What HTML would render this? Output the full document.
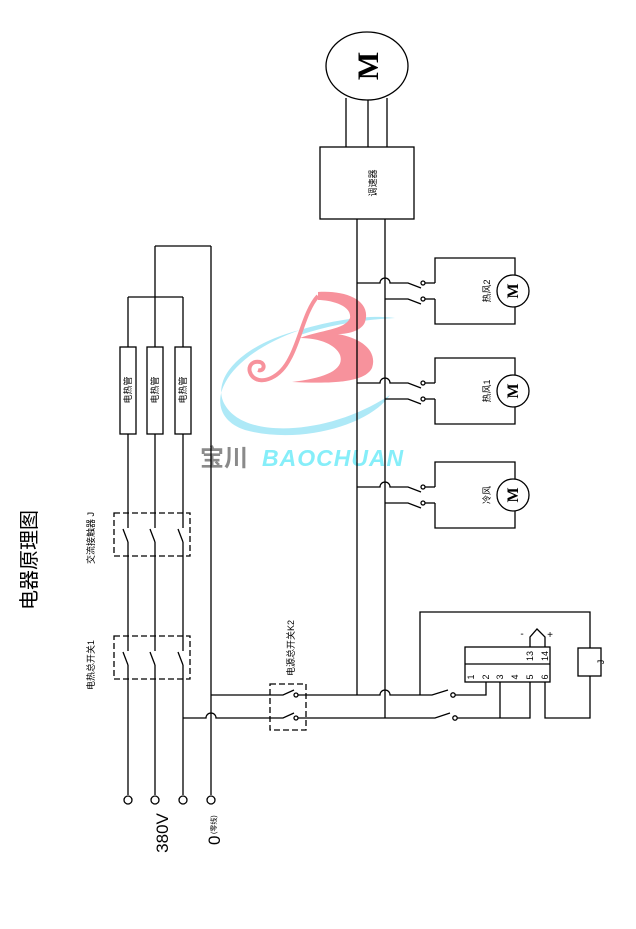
<!DOCTYPE html>
<html><head><meta charset="utf-8"><style>
html,body{margin:0;padding:0;background:#fff;}
svg{display:block;}
text{font-family:"Liberation Sans","Noto Sans CJK SC",sans-serif;}
text.serif{font-family:"Liberation Serif",serif;font-weight:bold;}
</style></head><body>
<svg width="636" height="929" viewBox="0 0 636 929" xmlns="http://www.w3.org/2000/svg">
<!-- logo -->
<g>
<path d="M300,330 C240,345 210,380 225,405 C245,440 330,435 390,395 C370,425 300,445 245,430 C200,415 215,360 300,330 Z" fill="#aee9f7"/>
<path d="M300,330 C340,318 375,315 395,318 C360,320 330,325 300,335 Z" fill="#aee9f7"/>
<path d="M318,292 C345,290 372,300 365,322 C362,330 350,334 338,334 C360,338 378,350 372,368 C365,382 335,384 292,382 C325,378 345,370 340,355 C336,345 320,338 300,338 C320,330 345,330 350,318 C352,305 330,300 318,300 Z" fill="#f7929c"/>
<path d="M318,296 C305,310 300,340 290,358 C280,378 262,385 253,377 C246,370 250,360 260,362 C266,364 264,372 258,370" fill="none" stroke="#f7929c" stroke-width="4"/>
<text x="200" y="466" font-size="24" font-weight="bold" fill="#8a8a8a">宝川</text>
<text x="262" y="466" font-size="23" font-weight="bold" font-style="italic" fill="#86eef9" letter-spacing="1">BAOCHUAN</text>
</g>
<g stroke="#000" stroke-width="1.3" fill="none">
<!-- motor -->
<ellipse cx="367" cy="66" rx="41" ry="34"/>
<line x1="346" y1="98" x2="346" y2="147"/><line x1="368" y1="100" x2="368" y2="147"/><line x1="387" y1="98" x2="387" y2="147"/>
<rect x="320" y="147" width="94" height="72"/>
<!-- bus -->
<line x1="357" y1="219" x2="357" y2="695"/>
<line x1="385" y1="219" x2="385" y2="718"/>
<!-- phase lines -->
<line x1="128" y1="297" x2="128" y2="795"/>
<line x1="155" y1="246" x2="155" y2="795"/>
<line x1="183" y1="297" x2="183" y2="795"/>
<line x1="211" y1="246" x2="211" y2="795"/>
<line x1="155" y1="246" x2="211" y2="246"/>
<line x1="128" y1="297" x2="183" y2="297"/>
<rect x="120" y="347" width="16" height="87" fill="#fff"/>
<rect x="147" y="347" width="16" height="87" fill="#fff"/>
<rect x="175" y="347" width="16" height="87" fill="#fff"/>
<circle cx="128" cy="800" r="4" fill="#fff"/><circle cx="155" cy="800" r="4" fill="#fff"/><circle cx="183" cy="800" r="4" fill="#fff"/><circle cx="211" cy="800" r="4" fill="#fff"/>
<!-- dashed boxes -->
<rect x="114" y="513" width="76" height="43" stroke-dasharray="6,3"/>
<rect x="114" y="636" width="76" height="43" stroke-dasharray="6,3"/>
<rect x="270" y="684" width="36" height="46" stroke-dasharray="6,3"/>
</g>
<g stroke="#fff" stroke-width="4">
<line x1="128" y1="528" x2="128" y2="542"/><line x1="155" y1="528" x2="155" y2="542"/><line x1="183" y1="528" x2="183" y2="542"/>
<line x1="128" y1="651" x2="128" y2="665"/><line x1="155" y1="651" x2="155" y2="665"/><line x1="183" y1="651" x2="183" y2="665"/>
</g>
<g stroke="#000" stroke-width="1.3" fill="none">
<line x1="123" y1="529" x2="128" y2="542"/><line x1="150" y1="529" x2="155" y2="542"/><line x1="178" y1="529" x2="183" y2="542"/>
<line x1="123" y1="652" x2="128" y2="665"/><line x1="150" y1="652" x2="155" y2="665"/><line x1="178" y1="652" x2="183" y2="665"/>
<!-- main horizontal -->
<path d="M211,695 H283 L294,690"/><circle cx="296" cy="695" r="2"/>
<path d="M298,695 H380 a5,5 0 0 1 10,0 H432 L448,690"/><circle cx="453" cy="695" r="2.2"/>
<path d="M183,718 H206 a5,5 0 0 1 10,0 H283 L294,713"/><circle cx="296" cy="718" r="2"/>
<path d="M298,718 H435 L450,713"/><circle cx="455" cy="718" r="2.2"/>
<path d="M455,695 H486 V682"/>
<path d="M457,718 H530 V682 M500,718 V682"/>
<path d="M420,695 V612 H590 V648"/>
<rect x="578" y="648" width="23" height="28"/>
<path d="M590,676 V718 H545 V682"/>
<rect x="465" y="647" width="85" height="35"/>
<line x1="465" y1="664" x2="550" y2="664"/>
<path d="M530,647 V637 L537,629 L545,637 V647"/>
<!-- fans -->
<g id="f">
<path d="M357,283 H380 a5,5 0 0 1 10,0 H408 L421,288"/><circle cx="423" cy="283" r="2"/><path d="M425,283 H435"/>
<path d="M385,299 H408 L421,304"/><circle cx="423" cy="299" r="2"/><path d="M425,299 H435"/>
<path d="M435,283 V258 H515 V275 M515,307 V324 H435 V299"/>
<circle cx="513" cy="291" r="16"/>
</g>
<use href="#f" transform="translate(0,100)"/>
<use href="#f" transform="translate(0,204)"/>
</g>
<!-- texts -->
<g fill="#000">
<text transform="translate(376,183) rotate(-90)" font-size="9" text-anchor="middle">调速器</text>
<text class="serif" transform="translate(378,66) rotate(-90)" font-size="30" text-anchor="middle">M</text>
<text class="serif" transform="translate(518,291) rotate(-90)" font-size="16" text-anchor="middle">M</text>
<text class="serif" transform="translate(518,391) rotate(-90)" font-size="16" text-anchor="middle">M</text>
<text class="serif" transform="translate(518,495) rotate(-90)" font-size="16" text-anchor="middle">M</text>
<g font-size="9" text-anchor="middle">
<text transform="translate(490,291) rotate(-90)">热风2</text>
<text transform="translate(490,391) rotate(-90)">热风1</text>
<text transform="translate(490,495) rotate(-90)">冷风</text>
<text transform="translate(131,390) rotate(-90)">电热管</text>
<text transform="translate(158,390) rotate(-90)">电热管</text>
<text transform="translate(186,390) rotate(-90)">电热管</text>
<text transform="translate(94,538) rotate(-90)">交流接触器 J</text>
<text transform="translate(94,665) rotate(-90)">电热总开关1</text>
<text transform="translate(294,648) rotate(-90)">电源总开关K2</text>
<text transform="translate(604,662) rotate(-90)">J</text>
</g>
<g font-size="9" text-anchor="middle">
<text transform="translate(474,677) rotate(-90)">1</text>
<text transform="translate(489,677) rotate(-90)">2</text>
<text transform="translate(503,677) rotate(-90)">3</text>
<text transform="translate(518,677) rotate(-90)">4</text>
<text transform="translate(533,677) rotate(-90)">5</text>
<text transform="translate(548,677) rotate(-90)">6</text>
<text transform="translate(533,656) rotate(-90)">13</text>
<text transform="translate(548,656) rotate(-90)">14</text>
<text x="522" y="637" font-size="10">-</text>
<text x="550" y="638" font-size="10">+</text>
</g>
<text transform="translate(36,560) rotate(-90)" font-size="20" text-anchor="middle">电器原理图</text>
<text transform="translate(168,833) rotate(-90)" font-size="17" text-anchor="middle">380V</text>
<text transform="translate(220,845) rotate(-90)" font-size="17">0</text>
<text transform="translate(216,834) rotate(-90)" font-size="7">(零线)</text>
</g>
</svg>
</body></html>
